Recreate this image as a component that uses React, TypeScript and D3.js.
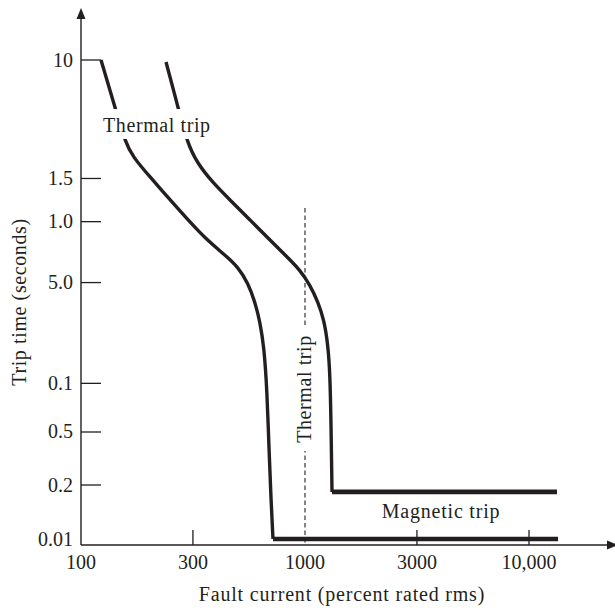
import React from "react";
import * as d3 from "d3";

// ---- data ----
const xTickValues = [100, 316, 1000, 3160, 10000];
const xTickLabels = ["100", "300", "1000", "3000", "10,000"];
const yTickValues = [10, 1.85, 1.0, 0.42, 0.1, 0.05, 0.0235, 0.01];
const yTickLabels = ["10", "1.5", "1.0", "5.0", "0.1", "0.5", "0.2", "0.01"];

// left (faster) curve: fault current (%), trip time (s)
const curveACurrent = [122.8, 141.8, 157.2, 170.7, 203.2, 257.5, 306.6, 365.2, 439.5, 502, 556.7, 598.2, 629.8, 656.1, 676.7, 690.9, 705.2, 719.6];
const curveATime = [10, 5.12, 3.11, 2.51, 1.89, 1.305, 0.995, 0.77, 0.622, 0.5245, 0.4175, 0.3185, 0.2395, 0.168, 0.091, 0.0387, 0.019, 0.0109];
const magneticACurrent = [719.6, 13475];
const magneticATime = [0.0109, 0.0109];

// right (slower) curve
const curveBCurrent = [239.6, 271, 297.3, 329.5, 388.5, 462.8, 568.3, 697.9, 831.4, 950, 1053, 1143, 1216, 1267, 1293, 1306, 1320];
const curveBTime = [9.72, 5.12, 3.11, 2.31, 1.735, 1.361, 1.024, 0.77, 0.605, 0.502, 0.406, 0.3185, 0.2465, 0.1726, 0.1126, 0.0593, 0.0213];
const magneticBCurrent = [1320, 13335];
const magneticBTime = [0.0213, 0.0213];

// dashed boundary at 1000 %
const boundaryCurrent = [1000, 1000];
const boundaryTime = [1.215, 0.01];

const W = 615;
const H = 610;
const INK = "#231f20";
const FONT = "'Liberation Serif', 'Times New Roman', serif";

export default function App() {
  const x = d3.scaleLog().domain([100, 10000]).range([81, 529]);
  const y = d3.scaleLog().domain([0.01, 10]).range([545, 60]);

  const zip = (xs: number[], ys: number[]) => xs.map((v, i) => [v, ys[i]] as [number, number]);
  const curveLine = d3
    .line<[number, number]>()
    .x((d) => x(d[0]))
    .y((d) => y(d[1]))
    .curve(d3.curveBasis);
  const straight = d3
    .line<[number, number]>()
    .x((d) => x(d[0]))
    .y((d) => y(d[1]));

  const x0 = x(100);
  const y0 = y(0.01);
  const xEnd = 618;
  const yTop = 8;

  const fs = 20;

  return (
    <svg width={W} height={H} style={{ position: "absolute", left: 0, top: 0, background: "#fff" }} fontFamily={FONT}>
      <rect x={0} y={0} width={W} height={H} fill="#fff" />

      {/* dashed boundary */}
      <path d={straight(zip(boundaryCurrent, boundaryTime)) || ""} stroke={INK} strokeWidth={1.1} strokeDasharray="4.5,3" fill="none" />

      {/* curves */}
      <path d={curveLine(zip(curveACurrent, curveATime)) || ""} stroke={INK} strokeWidth={3.4} fill="none" strokeLinejoin="round" />
      <path d={curveLine(zip(curveBCurrent, curveBTime)) || ""} stroke={INK} strokeWidth={3.4} fill="none" strokeLinejoin="round" />
      <path d={straight(zip(magneticACurrent, magneticATime)) || ""} stroke={INK} strokeWidth={4.6} fill="none" />
      <path d={straight(zip(magneticBCurrent, magneticBTime)) || ""} stroke={INK} strokeWidth={4.6} fill="none" />

      {/* axes */}
      <line x1={x0} y1={y0} x2={x0} y2={yTop + 8} stroke={INK} strokeWidth={1.4} />
      <path d={`M${x0},${yTop} L${x0 - 4.5},${yTop + 11} L${x0 + 4.5},${yTop + 11} Z`} fill={INK} />
      <line x1={x0} y1={y0} x2={xEnd - 8} y2={y0} stroke={INK} strokeWidth={1.4} />
      <path d={`M${xEnd},${y0} L${xEnd - 11},${y0 - 4.5} L${xEnd - 11},${y0 + 4.5} Z`} fill={INK} />

      {/* y ticks */}
      {yTickValues.map((v, i) => (
        <g key={"y" + i}>
          {i < yTickValues.length - 1 && (
            <line x1={x0} x2={x0 + 20} y1={y(v)} y2={y(v)} stroke={INK} strokeWidth={1.3} />
          )}
          <text x={73} y={y(v) + (i === yTickValues.length - 1 ? 1 : 6.5)} textAnchor="end" fontSize={fs} fill={INK}>
            {yTickLabels[i]}
          </text>
        </g>
      ))}

      {/* x ticks */}
      {xTickValues.map((v, i) => (
        <g key={"x" + i}>
          {i > 0 && i !== 2 && (
            <line x1={x(v)} x2={x(v)} y1={y0} y2={y0 - 15} stroke={INK} strokeWidth={1.3} />
          )}
          <text x={x(v)} y={569} textAnchor="middle" fontSize={fs} fill={INK}>
            {xTickLabels[i]}
          </text>
        </g>
      ))}

      {/* annotations */}
      <rect x={100} y={109} width={116} height={30} fill="#fff" />
      <text x={103} y={132} fontSize={fs} fill={INK} letterSpacing={0.6}>Thermal trip</text>

      <g transform={`translate(${x(1000) + 6},${389}) rotate(-90)`}>
        <rect x={-62} y={-15} width={124} height={18} fill="#fff" />
        <text x={0} y={0} textAnchor="middle" fontSize={fs} fill={INK} letterSpacing={0.6}>Thermal trip</text>
      </g>

      <text x={441} y={518} textAnchor="middle" fontSize={fs} fill={INK} letterSpacing={0.8}>Magnetic trip</text>

      {/* axis titles */}
      <text x={342} y={601} textAnchor="middle" fontSize={fs} fill={INK} letterSpacing={0.8}>Fault current (percent rated rms)</text>
      <g transform={`translate(${26},${302}) rotate(-90)`}>
        <text x={0} y={0} textAnchor="middle" fontSize={fs} fill={INK} letterSpacing={0.6}>Trip time (seconds)</text>
      </g>
    </svg>
  );
}
